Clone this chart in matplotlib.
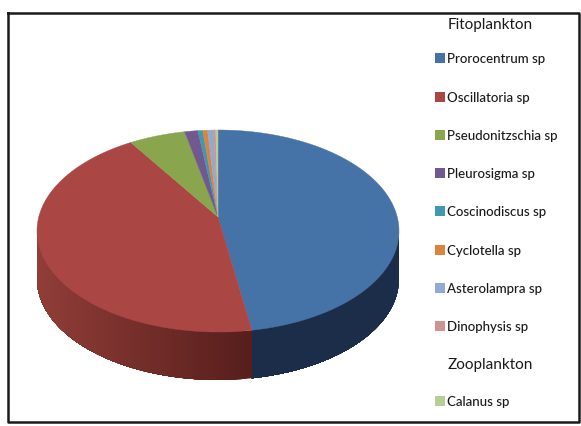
import matplotlib
matplotlib.use('Agg')
import matplotlib.pyplot as plt
import numpy as np

species = ['Prorocentrum sp', 'Oscillatoria sp', 'Pseudonitzschia sp', 'Pleurosigma sp',
           'Coscinodiscus sp', 'Cyclotella sp', 'Asterolampra sp', 'Dinophysis sp', 'Calanus sp']
percent = [47.0, 45.0, 5.05, 1.17, 0.43, 0.43, 0.53, 0.19, 0.20]
colors = ['#4572A7', '#AA4643', '#89A54E', '#71588F', '#4198AF', '#DB843D', '#93A9CF', '#D19392', '#B9CD96']
side_dark = ['#1B2D48', '#7A2E2B']
legend_y = [59, 98, 136, 174, 212, 251, 289, 327, 402]
headings = ['Fitoplankton', 'Zooplankton']
heading_y = [25, 365]

# pie geometry in pixels
cx, cy = 218, 232
rx, ry = 181, 101
apex_y = 218  # slices meet above the ellipse centre because of the tilt
depth = 48

fig = plt.figure(figsize=(5.81, 4.27), dpi=100)
ax = fig.add_axes([0, 0, 1, 1])
ax.set_xlim(0, 581)
ax.set_ylim(427, 0)
ax.axis('off')

# outer frame
ax.plot([8, 579, 579, 8, 8], [14, 14, 423, 423, 14], color='#1a1a1a', lw=1.8)

edges = np.cumsum([0] + percent) / sum(percent) * 2 * np.pi

# side of the pie, front half only, strips overlap so no gaps show
for i in range(len(species)):
    a0, a1 = max(edges[i], np.pi / 2), min(edges[i + 1], 3 * np.pi / 2)
    if a1 <= a0:
        continue
    angs = np.linspace(a0, a1, 60)
    for j in range(len(angs) - 1):
        seg = angs[j:]
        x = cx + rx * np.sin(seg)
        y = cy - ry * np.cos(seg)
        if i == 0:
            c = np.array(matplotlib.colors.to_rgb(side_dark[0]))
        else:
            # red side gets darker towards the front
            t = (x[0] - (cx - rx)) / (252 - (cx - rx))
            t = np.clip(1 - t, 0, 1)
            c = np.array([0.34, 0.12, 0.11]) * (1 - t) + np.array([0.57, 0.24, 0.22]) * t
        ax.fill(np.r_[x, x[::-1]], np.r_[y, y[::-1] + depth], color=c, lw=0)

# top of the pie
for i in range(len(species)):
    angs = np.linspace(edges[i], edges[i + 1], 200)
    x = np.r_[cx, cx + rx * np.sin(angs)]
    y = np.r_[apex_y, cy - ry * np.cos(angs)]
    ax.fill(x, y, color=colors[i], lw=0.3)

# legend
for name, col, y in zip(species, colors, legend_y):
    ax.scatter(440, y, marker='s', s=46, color=col, lw=0)
    ax.text(447, y, name, fontsize=9.5, family='Lato', weight='medium', color='#1a1a1a', va='center', ha='left')
for name, y in zip(headings, heading_y):
    ax.text(448, y, name, fontsize=11, family='Lato', color='#1a1a1a', va='center', ha='left')

fig.savefig('out.png', dpi=100)
